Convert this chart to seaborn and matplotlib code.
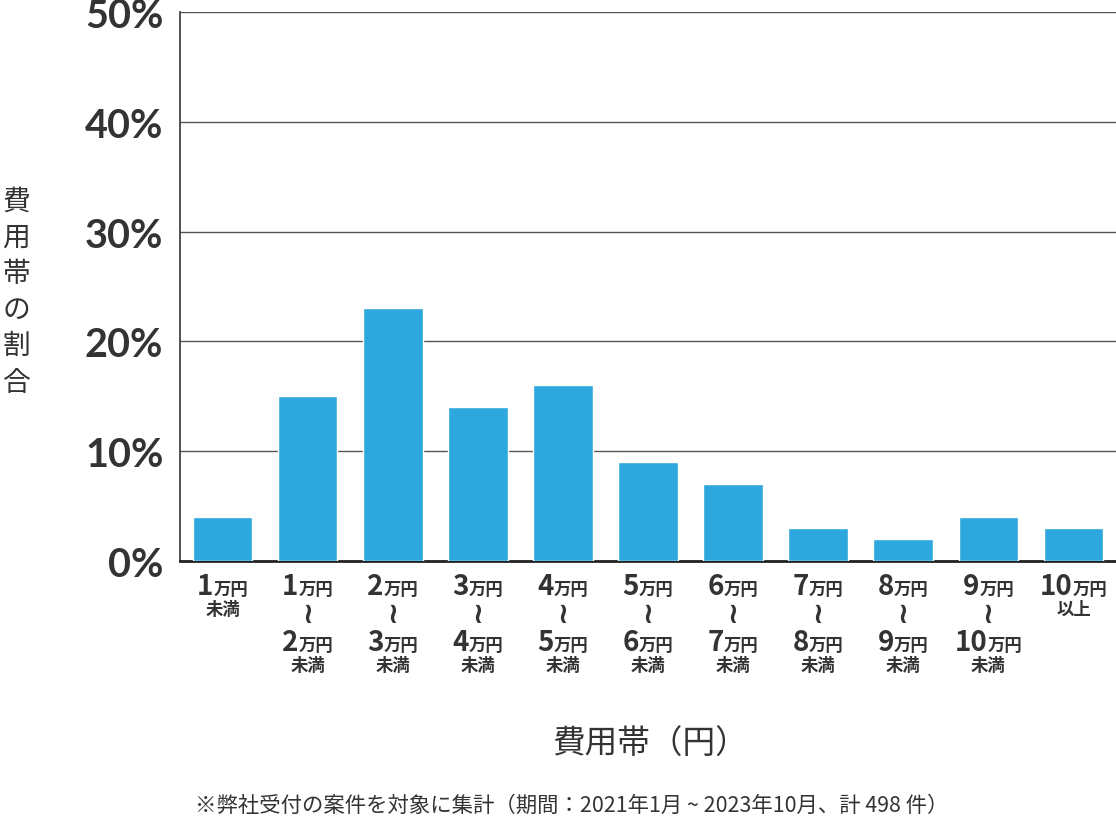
import re
import seaborn as sns
import matplotlib.pyplot as plt
from matplotlib.offsetbox import TextArea, HPacker, VPacker, AnnotationBbox

# データ
categories = ["1万円未満", "1万円〜2万円未満", "2万円〜3万円未満", "3万円〜4万円未満",
              "4万円〜5万円未満", "5万円〜6万円未満", "6万円〜7万円未満", "7万円〜8万円未満",
              "8万円〜9万円未満", "9万円〜10万円未満", "10万円以上"]
shares = [4, 15, 23, 14, 16, 9, 7, 3, 2, 4, 3]
yticks = [0, 10, 20, 30, 40, 50]

BAR = "#2ea7df"
TXT = "#333333"
JP = ["Noto Sans CJK JP", "DejaVu Sans"]

sns.set_theme(style="white")
plt.rcParams["font.family"] = JP

fig = plt.figure(figsize=(11.16, 8.28), dpi=100)
ax = fig.add_axes([180 / 1116, (828 - 562) / 828, 1 - 180 / 1116, (562 - 13) / 828])

sns.barplot(x=categories, y=shares, color=BAR, saturation=1, width=0.7, ax=ax, zorder=3)

ax.set_ylim(0, 50)
ax.set_yticks(yticks)
ax.set_yticklabels([f"{v}%" for v in yticks], fontsize=28.5, fontweight="bold",
                   color=TXT, family=["Lato", "DejaVu Sans"])
ax.tick_params(axis="y", length=0, pad=12)
ax.tick_params(axis="x", length=0)
ax.set_xticklabels([])
ax.yaxis.grid(True, color="#555555", linewidth=1, zorder=0)
ax.set_axisbelow(True)
for s in ["top", "right"]:
    ax.spines[s].set_visible(False)
ax.spines["left"].set_color("#333333")
ax.spines["left"].set_linewidth(1.2)
ax.spines["bottom"].set_color("#222222")
ax.spines["bottom"].set_linewidth(2)
ax.set_xlabel("")
ax.set_ylabel("")

big = dict(fontsize=20, fontweight="bold", color=TXT, family=JP)
small = dict(fontsize=12.5, fontweight="bold", color=TXT, family=JP)
wave = dict(fontsize=21, fontweight="bold", color=TXT, family=["DejaVu Sans"])


def amount_row(part):
    m = re.match(r"(\d+)(万円)", part)
    return HPacker(children=[TextArea(m.group(1), textprops=big),
                             TextArea(m.group(2), textprops=small)],
                   align="baseline", pad=0, sep=0)


# x軸の目盛りラベル（数字を大きく）
for i, cat in enumerate(categories):
    rows = []
    if "〜" in cat:
        lo, hi = cat.split("〜")
        rows.append(amount_row(lo))
        rows.append(TextArea("≀", textprops=wave))
        rows.append(amount_row(hi))
        rows.append(TextArea(hi[len(re.match(r"\d+万円", hi).group(0)):], textprops=small))
    else:
        head = re.match(r"\d+万円", cat).group(0)
        rows.append(amount_row(cat))
        rows.append(TextArea(cat[len(head):], textprops=small))
    box = VPacker(children=rows, align="center", pad=0, sep=0)
    ab = AnnotationBbox(box, (i, 0), xycoords=("data", "axes fraction"),
                        xybox=(0, -8), boxcoords="offset points",
                        box_alignment=(0.5, 1), frameon=False)
    ax.add_artist(ab)

# 縦書きの軸ラベル
fig.text(16 / 1116, 1 - 292 / 828, "\n".join("費用帯の割合"), fontsize=20,
         color=TXT, ha="center", va="center", linespacing=1.27)
fig.text(650 / 1116, 1 - 745 / 828, "費用帯（円）", fontsize=23.5, color=TXT,
         ha="center", va="center")
fig.text(572 / 1116, 1 - 806 / 828,
         "※弊社受付の案件を対象に集計（期間：2021年1月 ~ 2023年10月、計 498 件）",
         fontsize=15.4, color=TXT, ha="center", va="center")

fig.savefig("out.png", dpi=100)
